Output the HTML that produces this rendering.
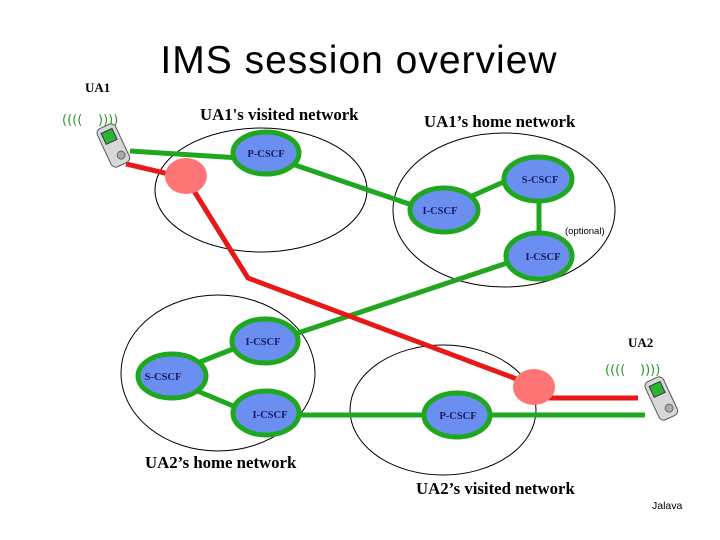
<!DOCTYPE html>
<html><head><meta charset="utf-8"><style>
html,body{margin:0;padding:0;background:#fff;width:720px;height:540px;overflow:hidden}
</style></head><body>
<svg width="720" height="540" viewBox="0 0 720 540" xmlns="http://www.w3.org/2000/svg">
<text x="359" y="73" text-anchor="middle" font-family="Liberation Sans, sans-serif" font-size="39" letter-spacing="1" fill="#000">IMS session overview</text>
<g font-family="Liberation Serif, serif" font-weight="bold" fill="#000">
<text x="85" y="92" font-size="13">UA1</text>
<text x="200" y="120" font-size="16.8">UA1's visited network</text>
<text x="424" y="127" font-size="16.8">UA1’s home network</text>
<text x="145" y="468" font-size="16.8">UA2’s home network</text>
<text x="416" y="494" font-size="16.8">UA2’s visited network</text>
<text x="628" y="347" font-size="13">UA2</text>
</g>
<text x="565" y="234" font-family="Liberation Sans, sans-serif" font-size="9.5">(optional)</text>
<text x="652" y="509" font-family="Liberation Sans, sans-serif" font-size="10.5">Jalava</text>
<g fill="none" stroke="#000" stroke-width="1">
<ellipse cx="261" cy="190" rx="106" ry="62"/>
<ellipse cx="504" cy="210" rx="111" ry="77"/>
<ellipse cx="218" cy="373" rx="97" ry="78"/>
<ellipse cx="443" cy="410" rx="93" ry="65"/>
</g>
<g stroke="#1fa81f" stroke-width="5" fill="none">
<line x1="130" y1="151" x2="240" y2="158"/>
<line x1="295" y1="165" x2="412" y2="205"/>
<line x1="472" y1="196" x2="508" y2="180"/>
<line x1="539" y1="200" x2="539" y2="236"/>
<line x1="510" y1="262" x2="295" y2="334"/>
<line x1="238" y1="347" x2="195" y2="364"/>
<line x1="195" y1="390" x2="238" y2="408"/>
<line x1="298" y1="415" x2="430" y2="415"/>
<line x1="488" y1="415" x2="645" y2="415"/>
</g>
<g stroke="#e81818" stroke-width="5" fill="none">
<polyline points="126,164 186,178 248,278 522,381"/>
<line x1="540" y1="398" x2="638" y2="398"/>
</g>
<g fill="#ff7474">
<ellipse cx="186" cy="176" rx="21" ry="18"/>
<ellipse cx="534" cy="387" rx="21" ry="18"/>
</g>
<g fill="#6b8ff0" stroke="#1fa81f" stroke-width="5">
<ellipse cx="266" cy="153" rx="33" ry="21"/>
<ellipse cx="538" cy="179" rx="34" ry="22"/>
<ellipse cx="444" cy="210" rx="34" ry="22"/>
<ellipse cx="539" cy="256" rx="33" ry="23"/>
<ellipse cx="265" cy="341" rx="33" ry="22"/>
<ellipse cx="172" cy="376" rx="34" ry="22"/>
<ellipse cx="266" cy="413" rx="33" ry="22"/>
<ellipse cx="457" cy="415" rx="33" ry="22"/>
</g>
<g font-family="Liberation Serif, serif" font-weight="bold" font-size="10.5" fill="#1a1a60" text-anchor="middle">
<text x="266" y="157">P-CSCF</text>
<text x="540" y="183">S-CSCF</text>
<text x="440" y="214">I-CSCF</text>
<text x="543" y="260">I-CSCF</text>
<text x="263" y="345">I-CSCF</text>
<text x="163" y="380">S-CSCF</text>
<text x="270" y="418">I-CSCF</text>
<text x="458" y="419">P-CSCF</text>
</g>
<g>
<text x="62" y="124" font-family="DejaVu Sans, sans-serif" font-size="13" fill="#2a9a2a">((((</text>
<text x="98" y="124" font-family="DejaVu Sans, sans-serif" font-size="13" fill="#2a9a2a">))))</text>
<g transform="translate(112,145) rotate(-25)">
<rect x="-9" y="-20" width="20" height="42" rx="5" fill="#d8d8d8" stroke="#555" stroke-width="1"/>
<rect x="-5" y="-15" width="12" height="12" fill="#2cb52c" stroke="#335" stroke-width="1"/>
<circle cx="4" cy="13" r="4" fill="#aaa" stroke="#555" stroke-width="0.8"/>
</g>
</g>
<g>
<text x="605" y="374" font-family="DejaVu Sans, sans-serif" font-size="13" fill="#2a9a2a">((((</text>
<text x="640" y="374" font-family="DejaVu Sans, sans-serif" font-size="13" fill="#2a9a2a">))))</text>
<g transform="translate(660,398) rotate(-25)">
<rect x="-9" y="-20" width="20" height="42" rx="5" fill="#d8d8d8" stroke="#555" stroke-width="1"/>
<rect x="-5" y="-15" width="12" height="12" fill="#2cb52c" stroke="#335" stroke-width="1"/>
<circle cx="4" cy="13" r="4" fill="#aaa" stroke="#555" stroke-width="0.8"/>
</g>
</g>
</svg>
</body></html>
